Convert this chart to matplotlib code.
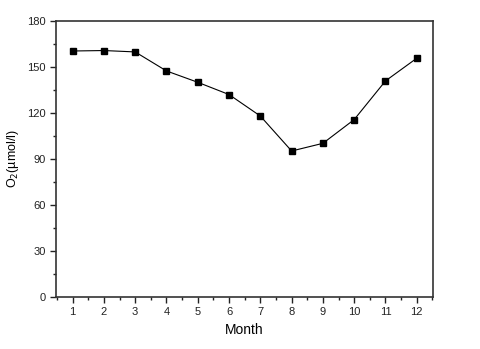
import matplotlib
matplotlib.use("Agg")
import matplotlib.pyplot as plt
from matplotlib.ticker import MultipleLocator

plt.rcParams['font.family'] = ['Liberation Sans', 'DejaVu Sans']

months = [1, 2, 3, 4, 5, 6, 7, 8, 9, 10, 11, 12]
o2 = [160.4, 160.7, 159.8, 147.4, 140.0, 132.0, 118.0, 95.2, 100.2, 115.7, 140.9, 155.7]

fig = plt.figure(figsize=(4.8, 3.49), dpi=100)
ax = fig.add_axes([0.1167, 0.149, 0.7855, 0.791])

ax.plot(months, o2, color='black', linewidth=0.8, marker='s', markersize=4.6)

ax.set_xlim(0.47, 12.52)
ax.set_ylim(0, 180)
ax.xaxis.set_major_locator(MultipleLocator(1))
ax.xaxis.set_minor_locator(MultipleLocator(0.5))
ax.yaxis.set_major_locator(MultipleLocator(30))
ax.yaxis.set_minor_locator(MultipleLocator(15))

ax.tick_params(which='both', direction='out', top=False, right=False, labelsize=8, colors='#222222')
ax.tick_params(which='major', length=4, width=1)
ax.tick_params(which='minor', length=2.5, width=1)
for s in ax.spines.values():
    s.set_linewidth(1.2)
    s.set_color('#333333')

ax.set_xlabel('Month', fontsize=10, labelpad=4)
ax.set_ylabel(r'O$_2$(µmol/l)', fontsize=9, labelpad=4)

fig.savefig('out.png', dpi=100)
